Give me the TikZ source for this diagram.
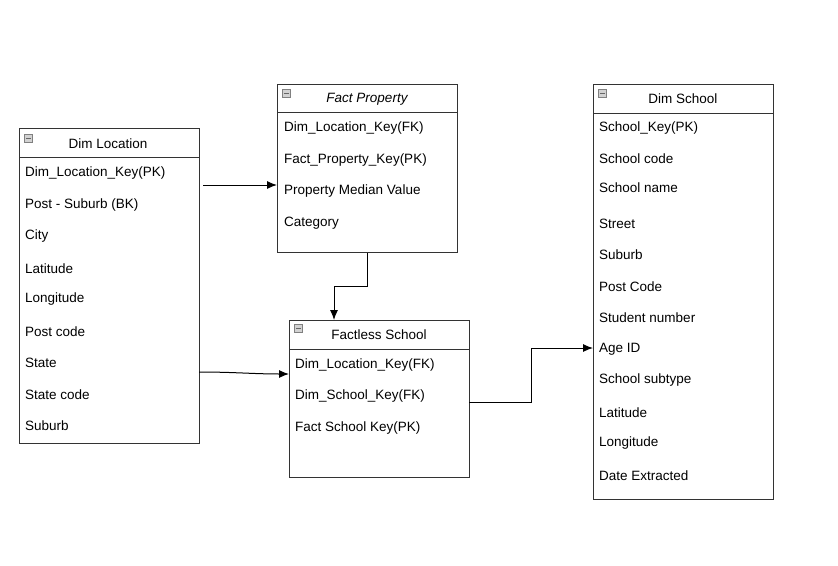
\documentclass[tikz,border=0pt]{standalone}
\usepackage{fontspec}
\setmainfont{Liberation Sans}
\usetikzlibrary{arrows.meta}

\begin{document}
\begin{tikzpicture}[x = 1pt, y = -1pt,
  tbl/.style = {draw = black!80, line width = 0.9pt, anchor = north west,
    minimum width = 180pt, inner sep = 0pt},
  row/.style = {anchor = west, inner sep = 0pt, yshift = -1.5pt,
    font = \fontsize{13.5}{16}\selectfont},
  ttl/.style = {inner sep = 0pt, yshift = -1pt, font = \fontsize{13.5}{16}\selectfont},
  ico/.style = {draw = gray, fill = gray!35, line width = 0.5pt,
    minimum width = 8pt, minimum height = 8pt, inner sep = 0pt},
  hdr/.style = {draw = black!80, line width = 0.9pt},
  link/.style = {-{Latex[length = 10pt, width = 8pt]}, line width = 1pt}
]
  \useasboundingbox (0, 0) rectangle (838, 565);

  % tables
  \draw node[tbl, minimum height = 315pt] (dl) at (19, 128) {};
  \draw node[tbl, minimum height = 168pt] (fp) at (277, 84) {};
  \draw node[tbl, minimum height = 157pt] (fs) at (289, 320) {};
  \draw node[tbl, minimum height = 415pt] (ds) at (593, 84) {};

  \draw[hdr] (19, 157) -- (199, 157);
  \draw[hdr] (277, 112) -- (457, 112);
  \draw[hdr] (289, 349) -- (469, 349);
  \draw[hdr] (593, 113) -- (773, 113);

  \draw node[ico] (dlicon) at (28.5, 138) {};
  \draw node[ico] (fpicon) at (286.5, 93) {};
  \draw node[ico] (fsicon) at (298.5, 328) {};
  \draw node[ico] (dsicon) at (602.5, 93) {};
  \foreach \ic in {dlicon, fpicon, fsicon, dsicon}
    \draw[black!60, line width = 0.8pt] ([xshift = 1.5pt] \ic.west) -- ([xshift = -1.5pt] \ic.east);

  \node[ttl] (dltitle) at (108, 143) {Dim Location};
  \node[ttl] (fptitle) at (367, 98) {\itshape Fact Property};
  \node[ttl] (fstitle) at (379, 334) {Factless School};
  \node[ttl] (dstitle) at (683, 98) {Dim School};

  % rows
  \foreach \yy/\txt [count = \i] in {172/Dim\_Location\_Key(PK), 204/Post - Suburb (BK),
      235/City, 267/Latitude, 298/Longitude, 330/Post code, 361/State,
      393/State code, 424/Suburb}
    \node[row] (dl\i) at (25, \yy) {\txt};

  \foreach \yy/\txt [count = \i] in {127/Dim\_Location\_Key(FK),
      159/Fact\_Property\_Key(PK), 190/Property Median Value, 222/Category}
    \node[row] (fp\i) at (284, \yy) {\txt};

  \foreach \yy/\txt [count = \i] in {364/Dim\_Location\_Key(FK),
      395/Dim\_School\_Key(FK), 427/Fact School Key(PK)}
    \node[row] (fs\i) at (295, \yy) {\txt};

  \foreach \yy/\txt [count = \i] in {127/School\_Key(PK), 157/School code,
      186/School name, 222/Street, 253/Suburb, 285/Post Code,
      316/Student number, 348/Age ID, 379/School subtype, 411/Latitude,
      442/Longitude, 474/Date Extracted}
    \node[row] (ds\i) at (599, \yy) {\txt};

  % links
  \coordinate (dlout) at (203, 185);
  \coordinate (fpin) at (277, 185);
  \coordinate (fpbend) at (334, 286);
  \coordinate (dlfs) at (199, 372);
  \coordinate (fsin) at (289, 374);
  \coordinate (fsout) at (469, 402);
  \coordinate (fsbend) at (531, 402);
  \coordinate (dsin) at (593, 348);

  \draw[link] (dlout) -- (fpin);
  \draw[link] (fp.south) |- (fpbend) -- (fpbend |- fs.north);
  \draw[link] (dlfs) to[out = 0, in = 180] (fsin);
  \draw[link] (fsout) -- (fsbend) |- (dsin);

\end{tikzpicture}
\end{document}
